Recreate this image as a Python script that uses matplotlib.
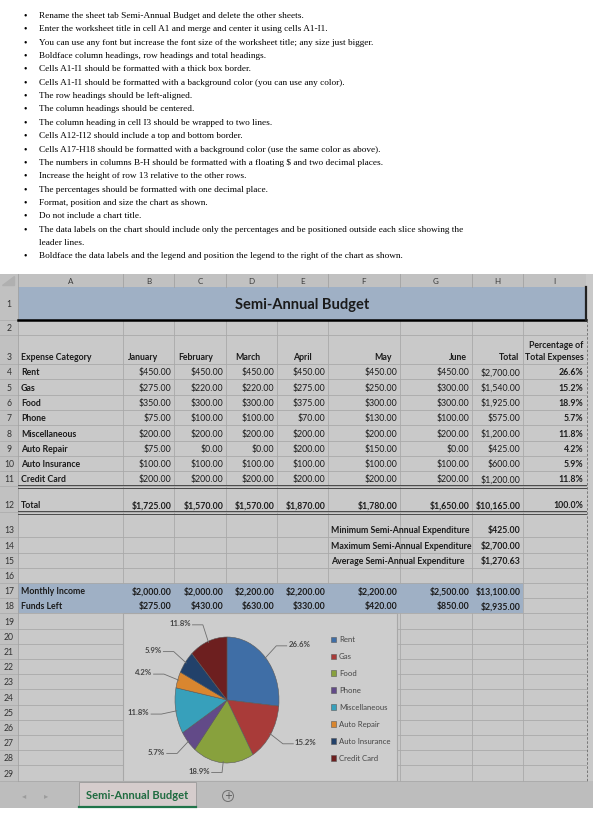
import matplotlib
matplotlib.use("Agg")
import matplotlib.pyplot as plt
from matplotlib.patches import Rectangle, Circle
import numpy as np

# ---- data ----
instructions = [
    "Rename the sheet tab Semi-Annual Budget and delete the other sheets.",
    "Enter the worksheet title in cell A1 and merge and center it using cells A1-I1.",
    "You can use any font but increase the font size of the worksheet title; any size just bigger.",
    "Boldface column headings, row headings and total headings.",
    "Cells A1-I1 should be formatted with a thick box border.",
    "Cells A1-I1 should be formatted with a background color (you can use any color).",
    "The row headings should be left-aligned.",
    "The column headings should be centered.",
    "The column heading in cell I3 should be wrapped to two lines.",
    "Cells A12-I12 should include a top and bottom border.",
    "Cells A17-H18 should be formatted with a background color (use the same color as above).",
    "The numbers in columns B-H should be formatted with a floating $ and two decimal places.",
    "Increase the height of row 13 relative to the other rows.",
    "The percentages should be formatted with one decimal place.",
    "Format, position and size the chart as shown.",
    "Do not include a chart title.",
    "The data labels on the chart should include only the percentages and be positioned outside each slice showing the\nleader lines.",
    "Boldface the data labels and the legend and position the legend to the right of the chart as shown.",
]

categories = ["Rent", "Gas", "Food", "Phone", "Miscellaneous",
              "Auto Repair", "Auto Insurance", "Credit Card"]
months = ["January", "February", "March", "April", "May", "June"]
jan = [450, 275, 350, 75, 200, 75, 100, 200]
feb = [450, 220, 300, 100, 200, 0, 100, 200]
mar = [450, 220, 300, 100, 200, 0, 100, 200]
apr = [450, 275, 375, 70, 200, 200, 100, 200]
may = [450, 250, 300, 130, 200, 150, 100, 200]
jun = [450, 300, 300, 100, 200, 0, 100, 200]
income = [2000, 2000, 2200, 2200, 2200, 2500]

pie_colors = ["#3f6ea6", "#a93b39", "#88a13d", "#624a88",
              "#37a0bb", "#d9862f", "#22416a", "#6d1f1f"]

monthly = np.array([jan, feb, mar, apr, may, jun], dtype=float)
cat_total = monthly.sum(axis=0)
month_total = monthly.sum(axis=1)
grand = cat_total.sum()
pct = cat_total / grand * 100
funds = np.array(income) - month_total


def money(v):
    # round half up like the spreadsheet does
    return "${:,.2f}".format(np.floor(v * 100 + 0.5) / 100)


W, H = 607, 833
fig = plt.figure(figsize=(6.07, 8.33), dpi=100)
bg = fig.add_axes([0, 0, 1, 1])
bg.set_xlim(0, W)
bg.set_ylim(H, 0)
bg.axis("off")

SERIF = ["Liberation Serif", "DejaVu Serif"]
SANS = ["Lato", "DejaVu Sans"]
INK = "#1b1b1b"

# ---- instruction bullets ----
line = 0
for item in instructions:
    y = 16 + line * 13.35
    bg.text(23, y, "\u2022", fontsize=7, family=SERIF, va="center", color="black")
    for k, part in enumerate(item.split("\n")):
        bg.text(39, y + k * 13.35, part, fontsize=6.7, family=SERIF,
                va="center", color="black")
    line += item.count("\n") + 1

# ---- sheet geometry ----
cols = [0, 18, 123, 174, 226, 277, 328, 400, 472, 523, 586]
row_h = [33, 15, 29] + [15.3] * 8 + [26, 25] + [15.2] * 16
rows = [287.0]
for h in row_h:
    rows.append(rows[-1] + h)
sheet_top, sheet_right = 274, 593
sheet_bot = rows[-1]
chart_x0, chart_x1 = cols[2], 397
chart_y0, chart_y1 = rows[18], sheet_bot


def rtop(r):
    return rows[r - 1]


def rbot(r):
    return rows[r]


bg.add_patch(Rectangle((0, sheet_top), sheet_right, sheet_bot - sheet_top,
                       facecolor="#c9c9c9", edgecolor="none"))
bg.add_patch(Rectangle((0, sheet_top), cols[-1], rows[0] - sheet_top,
                       facecolor="#c1c1c1", edgecolor="none"))
bg.add_patch(Rectangle((0, sheet_top), cols[1], sheet_bot - sheet_top,
                       facecolor="#c1c1c1", edgecolor="none"))
band = "#9fb0c5"
bg.add_patch(Rectangle((cols[1], rtop(1)), cols[-1] - cols[1], rbot(1) - rtop(1),
                       facecolor=band, edgecolor="none"))
bg.add_patch(Rectangle((cols[1], rtop(17)), cols[9] - cols[1], rbot(18) - rtop(17),
                       facecolor=band, edgecolor="none"))

grid = "#a9a9a9"
# horizontal grid lines
for i, y in enumerate(rows[1:], start=1):
    bg.plot([0, cols[1]], [y, y], color="#adadad", lw=0.6)
    if i == 1:
        continue
    if i == 17:
        bg.plot([cols[9], cols[-1]], [y, y], color=grid, lw=0.6)
        continue
    if chart_y0 < y < chart_y1 - 1:
        bg.plot([cols[1], chart_x0], [y, y], color=grid, lw=0.6)
        bg.plot([chart_x1, cols[-1]], [y, y], color=grid, lw=0.6)
    else:
        bg.plot([cols[1], cols[-1]], [y, y], color=grid, lw=0.6)
# vertical grid lines
for x in cols[1:-1]:
    bg.plot([x, x], [sheet_top, rows[0]], color="#a3a3a3", lw=0.6)
    if x == cols[1]:
        bg.plot([x, x], [rows[0], sheet_bot], color="#a3a3a3", lw=0.6)
        continue
    segs = [(rbot(1), rtop(17)), (rbot(18), sheet_bot)]
    if x >= cols[9]:
        segs = [(rbot(1), sheet_bot)]
    for a, b in segs:
        if chart_x0 <= x < chart_x1 and b > chart_y0:
            b = min(b, chart_y0)
        if b > a:
            bg.plot([x, x], [a, b], color=grid, lw=0.6)

# column letters / row numbers
for j, letter in enumerate("ABCDEFGHI"):
    bg.text((cols[j + 1] + cols[j + 2]) / 2, (sheet_top + rows[0]) / 2 + 0.5, letter,
            fontsize=5.8, family=SANS, ha="center", va="center", color="#3a3a3a")
bg.fill([2, 14, 14], [285, 285, 276], color="#b0b0b0")
for r in range(1, 30):
    y = (rtop(r) + rbot(r)) / 2 + 1 if r == 1 else rbot(r) - 4
    bg.text(9, y, str(r), fontsize=6.2, family=SANS, ha="center",
            va="center" if r == 1 else "baseline", color="#333333")

# title row with thick border
bg.text((cols[1] + cols[-1]) / 2, (rtop(1) + rbot(1)) / 2 + 1, "Semi-Annual Budget",
        fontsize=10.5, family=SANS, weight="bold", ha="center", va="center", color=INK)
bg.plot([cols[1], cols[-1]], [rbot(1), rbot(1)], color="black", lw=1.8)
bg.plot([cols[-1], cols[-1]], [rtop(1), rbot(1)], color="#222222", lw=1.6)
bg.plot([cols[-1] + 0.5] * 2, [rbot(1), sheet_bot], color="#6a6a6a", lw=0.6,
        ls=(0, (3, 2)))

FS = 6.3


def cell(r, c, s, bold=False, ha="right"):
    if ha == "right":
        x = cols[c + 1] - 2.5
    elif ha == "left":
        x = cols[c] + 3
    else:
        x = (cols[c] + cols[c + 1]) / 2
    bg.text(x, rbot(r) - 4, s, fontsize=FS, family=SANS, ha=ha, va="baseline",
            weight="bold" if bold else "normal", color=INK)


# header row 3
cell(3, 1, "Expense Category", True, "left")
head_x = [143, 196, 248, 302, 383, 458, 509]
for x, name in zip(head_x, months + ["Total"]):
    bg.text(x, rbot(3) - 4, name, fontsize=FS, family=SANS, weight="bold",
            ha="center", va="baseline", color=INK)
bg.text(cols[-1] - 2.5, rbot(3) - 16, "Percentage of", fontsize=FS, family=SANS,
        weight="bold", ha="right", va="baseline", color=INK)
bg.text(cols[-1] - 2.5, rbot(3) - 4, "Total Expenses", fontsize=FS, family=SANS,
        weight="bold", ha="right", va="baseline", color=INK)

# expense rows
for i, cat in enumerate(categories):
    r = 4 + i
    cell(r, 1, cat, True, "left")
    for m in range(6):
        cell(r, 2 + m, money(monthly[m, i]))
    cell(r, 8, money(cat_total[i]))
    cell(r, 9, "{:.1f}%".format(pct[i]), True)

cell(12, 1, "Total", True, "left")
for m in range(6):
    cell(12, 2 + m, money(month_total[m]), True)
cell(12, 8, money(grand), True)
cell(12, 9, "{:.1f}%".format(pct.sum()), True)
for y in (rbot(11), rbot(12)):
    for dy in (-1.1, 1.1):
        bg.plot([cols[1], cols[-1]], [y + dy, y + dy], color="#4a4a4a", lw=0.7)

stats = [("Minimum Semi-Annual Expenditure", cat_total.min()),
         ("Maximum Semi-Annual Expenditure", cat_total.max()),
         ("Average Semi-Annual Expenditure", cat_total.mean())]
for k, (lab, v) in enumerate(stats):
    cell(13 + k, 6, lab, True, "left")
    cell(13 + k, 8, money(v), True)

cell(17, 1, "Monthly Income", True, "left")
cell(18, 1, "Funds Left", True, "left")
for m in range(6):
    cell(17, 2 + m, money(income[m]), True)
    cell(18, 2 + m, money(funds[m]), True)
cell(17, 8, money(sum(income)), True)
cell(18, 8, money(funds.sum()), True)

# chart area
bg.add_patch(Rectangle((chart_x0, chart_y0), chart_x1 - chart_x0, chart_y1 - chart_y0,
                       facecolor="#cdcdcd", edgecolor="#a8a8a8", lw=0.8))

# tab bar
bg.add_patch(Rectangle((0, sheet_bot), sheet_right, 808 - sheet_bot,
                       facecolor="#bdbdbd", edgecolor="none"))
bg.add_patch(Rectangle((79, sheet_bot + 1), 117, 808 - sheet_bot - 2,
                       facecolor="#d5cccc", edgecolor="#9a9a9a", lw=0.6))
bg.plot([79, 196], [807, 807], color="#21744a", lw=1.6)
bg.text(137.5, 795.5, "Semi-Annual Budget", fontsize=8, family=SANS, weight="bold",
        ha="center", va="center", color="#1f6b40")
bg.text(24, 795.5, "\u25c2", fontsize=6, ha="center", va="center", color="#9c9c9c")
bg.text(46, 795.5, "\u25b8", fontsize=6, ha="center", va="center", color="#9c9c9c")
bg.add_patch(Circle((228, 796), 5.5, facecolor="none", edgecolor="#6f6f6f", lw=0.7))
bg.text(228, 796, "+", fontsize=7, ha="center", va="center", color="#555555")

# ---- pie ----
cx, cy, rx, ry = 227, 700, 52, 63
pax = fig.add_axes([(cx - 2 * rx) / W, 1 - (cy + 2 * ry) / H, 4 * rx / W, 4 * ry / H])
wedges, _ = pax.pie(cat_total, colors=pie_colors, startangle=90, counterclock=False,
                    wedgeprops=dict(edgecolor="#5a5a5a", linewidth=0.4))
pax.set_aspect("auto")
pax.set_xlim(-2, 2)
pax.set_ylim(-2, 2)
pax.axis("off")

for w, p in zip(wedges, pct):
    th = np.deg2rad((w.theta1 + w.theta2) / 2)
    ex, ey = 0.98 * np.cos(th), 0.98 * np.sin(th)
    kx, ky = 1.28 * np.cos(th), np.clip(1.28 * np.sin(th), -1.15, 1.25)
    side = 1 if np.cos(th) >= 0 else -1
    tx = kx + side * 0.2
    pax.plot([ex, kx, tx], [ey, ky, ky], color="#6e6e6e", lw=0.6)
    pax.text(tx + side * 0.03, ky + 0.02, "{:.1f}%".format(p), fontsize=5.6,
             family=SANS, weight="bold", color="#474747",
             ha="left" if side > 0 else "right", va="center")

fig.legend(wedges, categories, loc="upper left",
           bbox_to_anchor=(331 / W, 1 - 636 / H), bbox_transform=fig.transFigure,
           frameon=False, fontsize=5.6, labelspacing=1.28, handlelength=0.7,
           handleheight=0.7, handletextpad=0.3, borderpad=0, borderaxespad=0,
           labelcolor="#454545", prop=dict(family=SANS, size=5.6))

fig.savefig("out.png", dpi=100, facecolor="white")
